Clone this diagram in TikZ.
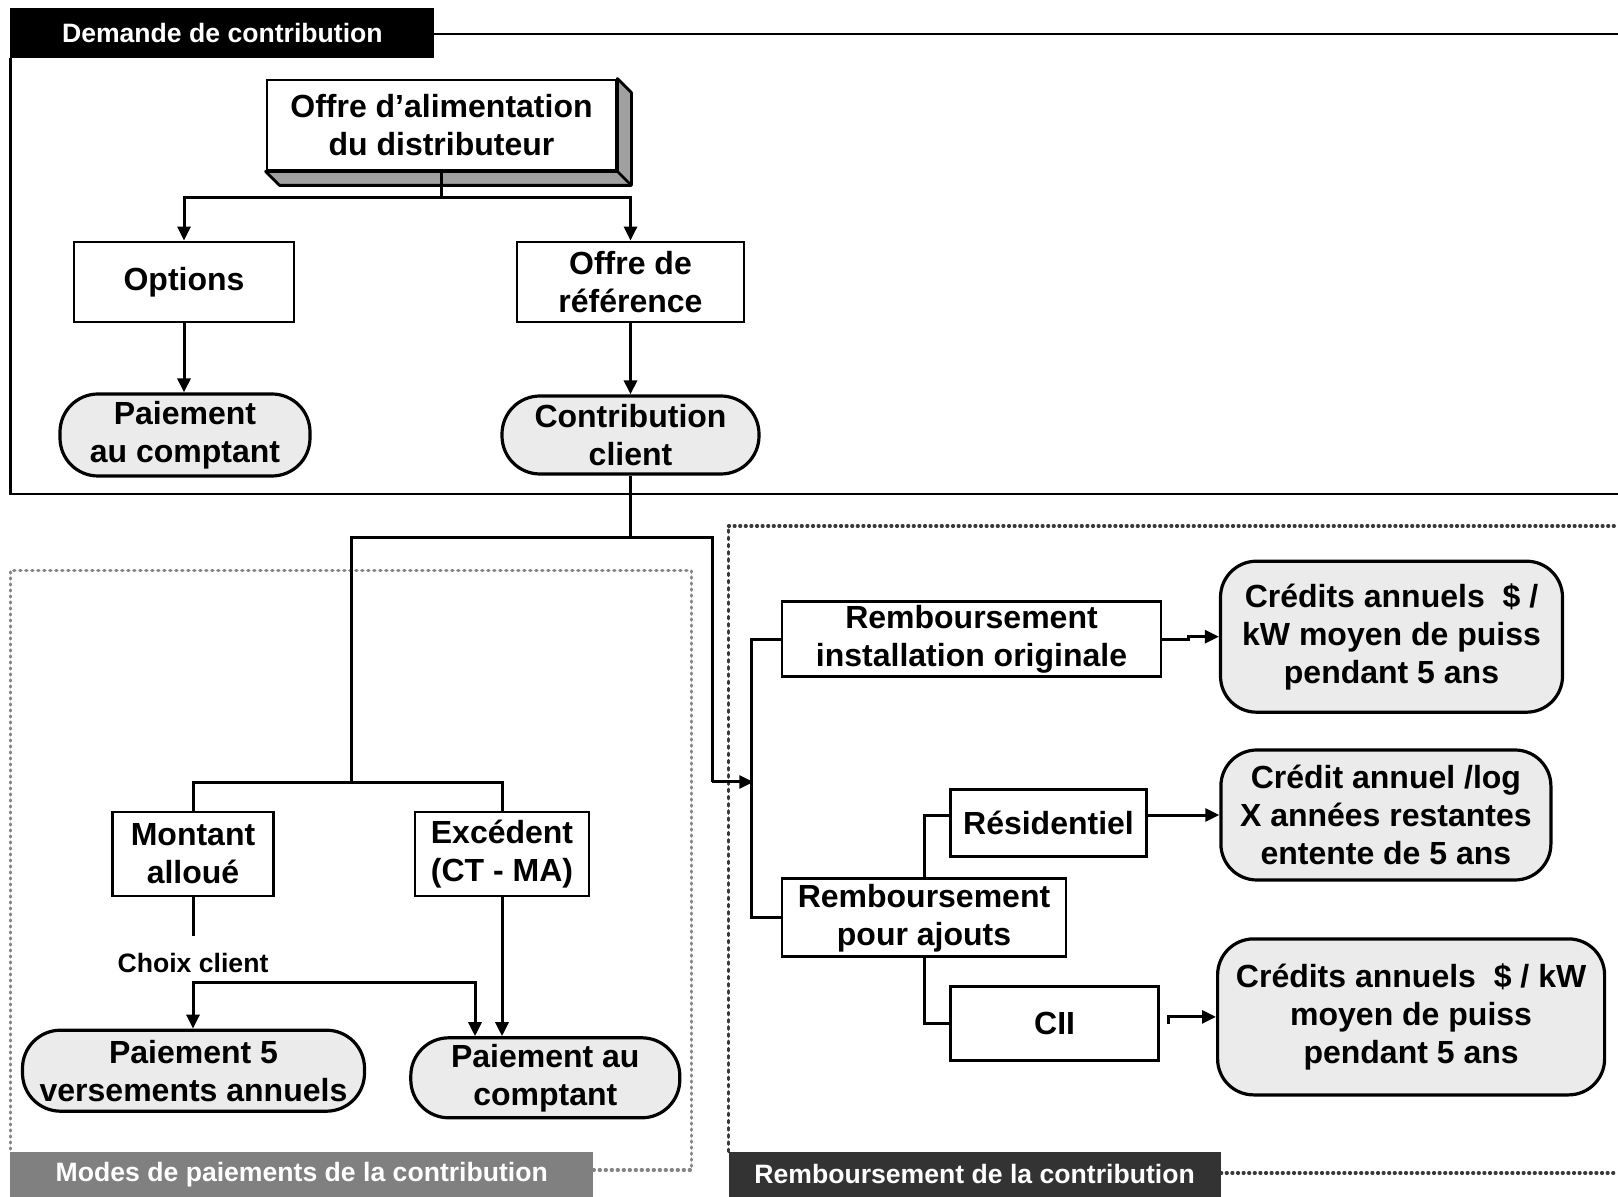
\documentclass[tikz,border=0pt]{standalone}
\usepackage{fontspec}
\setmainfont{Liberation Sans}
\usetikzlibrary{arrows.meta,calc}
\definecolor{pillgray}{HTML}{EBEBEB}
\definecolor{shadowgray}{HTML}{A0A0A0}
\definecolor{tabgray}{HTML}{808080}
\definecolor{tabdark}{HTML}{333333}
\definecolor{dotgray}{HTML}{858585}
\definecolor{dashdark}{HTML}{3A3A3A}
\begin{document}
\begin{tikzpicture}[x=0.5pt,y=-0.5pt,
  sz/.style 2 args={minimum width=#1*0.5pt, minimum height=#2*0.5pt},
  boxn/.style={draw, line width=1.4pt, fill=white, align=center, inner sep=0pt, font=\bfseries\fontsize{16}{19}\selectfont},
  pill/.style={boxn, fill=pillgray, line width=1.6pt, rounded corners=19pt},
  rbox/.style={boxn, fill=pillgray, line width=1.6pt, rounded corners=18pt},
  conn/.style={line width=1.5pt},
  arr/.style={conn, -{Triangle[length=7pt,width=6.5pt]}},
  tab/.style={inner sep=0pt, text=white, font=\bfseries\fontsize{13.3}{16}\selectfont},
  frameline/.style={line width=1.4pt},
  dotline/.style={draw=dotgray, line width=1.7pt, line cap=round, dash pattern=on 0.5pt off 2.5pt},
  dashtop/.style={draw=dashdark, line width=1.6pt, line cap=round, dash pattern=on 0.5pt off 2.3pt},
  dashleft/.style={draw=dashdark, line width=1.6pt, line cap=round, dash pattern=on 1.2pt off 2.4pt},
]
\useasboundingbox (0,0) rectangle (1618,1197);

% ---------- Frame: Demande de contribution ----------
\fill[black] (10.3,8.3) rectangle (434.4,57.8);
\node[tab] (tabA) at (222.4,33) {Demande de contribution};
\draw[frameline] (434.4,34) -- (1618,34);
\draw[frameline] (10.3,57.8) -- (10.3,494) -- (1618,494);

% ---------- Frame: Modes de paiements ----------
\draw[dotline] (593.3,1170) -- (691.4,1170) -- (691.4,570.6) -- (10.3,570.6) -- (10.3,1151.6);
\fill[tabgray] (10.3,1151.6) rectangle (593.3,1197);
\node[tab] (tabB) at (301.8,1174.3) {Modes de paiements de la contribution};

% ---------- Frame: Remboursement ----------
\draw[dashtop] (1220.7,1173) -- (1618,1173);
\draw[dashtop] (728.5,526) -- (1618,526);
\draw[dashleft] (728.5,1151.6) -- (728.5,526);
\fill[tabdark] (728.5,1151.6) rectangle (1220.7,1197);
\node[tab] (tabC) at (974.6,1174.3) {Remboursement de la contribution};

% ---------- Top part ----------
\node[boxn, sz={349}{90}] (top) at (441.5,125) {Offre d’alimentation\\du distributeur};
\filldraw[fill=shadowgray, line width=1.4pt, line join=round]
  (top.north east) -- ++(14,14) -- ($(top.south east)+(14,14)$) -- ($(top.south west)+(14,14)$)
  -- (top.south west) -- (top.south east) -- cycle;
\draw[line width=1.4pt] (top.south east) -- ++(14,14);

\node[boxn, sz={220}{80}] (opt) at (184,282) {Options};
\node[boxn, sz={227}{80}] (ref) at (630.5,282) {Offre de\\référence};
\node[pill, sz={250}{82}] (p1) at (185,435) {Paiement\\au comptant};
\node[pill, sz={257}{78}] (cc) at (630.5,435) {Contribution\\client};

\draw[arr] (top.south) -- ++(0,26) -| (opt.north);
\draw[arr] (top.south) -- ++(0,26) -| (ref.north);
\draw[arr] (opt.south) -- (opt.south |- p1.north);
\draw[arr] (ref.south) -- (ref.south |- cc.north);

% ---------- Modes de paiements ----------
\node[boxn, sz={161}{84}] (ma) at (193,854) {Montant\\alloué};
\node[boxn, sz={174}{84}] (ex) at (502,854) {Excédent\\(CT - MA)};
\node[pill, sz={342}{81}] (p5) at (193.5,1070.7) {Paiement 5\\versements annuels};
\node[pill, sz={269}{80}] (pc) at (545.3,1077.8) {Paiement au\\comptant};
\node[inner sep=0pt, font=\bfseries\fontsize{13.3}{16}\selectfont] (choix) at (193,963) {Choix client};

\coordinate (jA) at (630.5,538);
\coordinate (jL) at (351,783);
\coordinate (jR) at (712,782);
\draw[conn] (cc.south) -- (jA) -| (jL);
\draw[conn] (ma.north) |- (jL) -| (ex.north);
\draw[conn] (ma.south) -- ++(0,38.5);
\coordinate (ch) at (193,982);
\coordinate (chR) at (475,982);
\draw[arr] (chR) -- (ch) -- (ch |- p5.north);
\draw[arr] (ch) -- (chR) -- (chR |- pc.north);
\draw[arr] (ex.south) -- (ex.south |- pc.north);

% ---------- Remboursement ----------
\node[boxn, sz={379}{75}] (ri) at (971.5,639.3) {Remboursement\\installation originale};
\node[rbox, sz={342}{151}] (c1) at (1391.5,636.7) {Crédits annuels~~\$ /\\kW moyen de puiss\\pendant 5 ans};
\node[boxn, sz={196}{67}] (res) at (1048.5,823) {Résidentiel};
\node[rbox, sz={330}{130}] (c2) at (1385.9,815) {Crédit annuel /log\\X années restantes\\entente de 5 ans};
\node[boxn, sz={284}{78}] (ra) at (924,917.8) {Remboursement\\pour ajouts};
\node[boxn, sz={208}{74}] (cii) at (1054.6,1023.6) {CII};
\node[rbox, sz={387}{156}] (c3) at (1411.1,1016.9) {Crédits annuels~~\$ / kW\\moyen de puiss\\pendant 5 ans};

\coordinate (br) at (753.3,782);
\draw[conn] (cc.south) -- (jA) -| (jR);
\draw[arr] (jR) -- (br);
\draw[conn] (ri.west) -- ++(-28.7,0) |- (ra.west);
\draw[arr] (ri.east) -- ++(26,0) |- (c1.west);
\draw[conn] (ra.north) |- (res.west |- c2.west);
\draw[arr] (res.east |- c2.west) -- (c2.west);
\draw[conn] (ra.south) |- (cii.west);
\draw[arr] ([xshift=4pt]cii.east) |- (c3.west);
\end{tikzpicture}
\end{document}
